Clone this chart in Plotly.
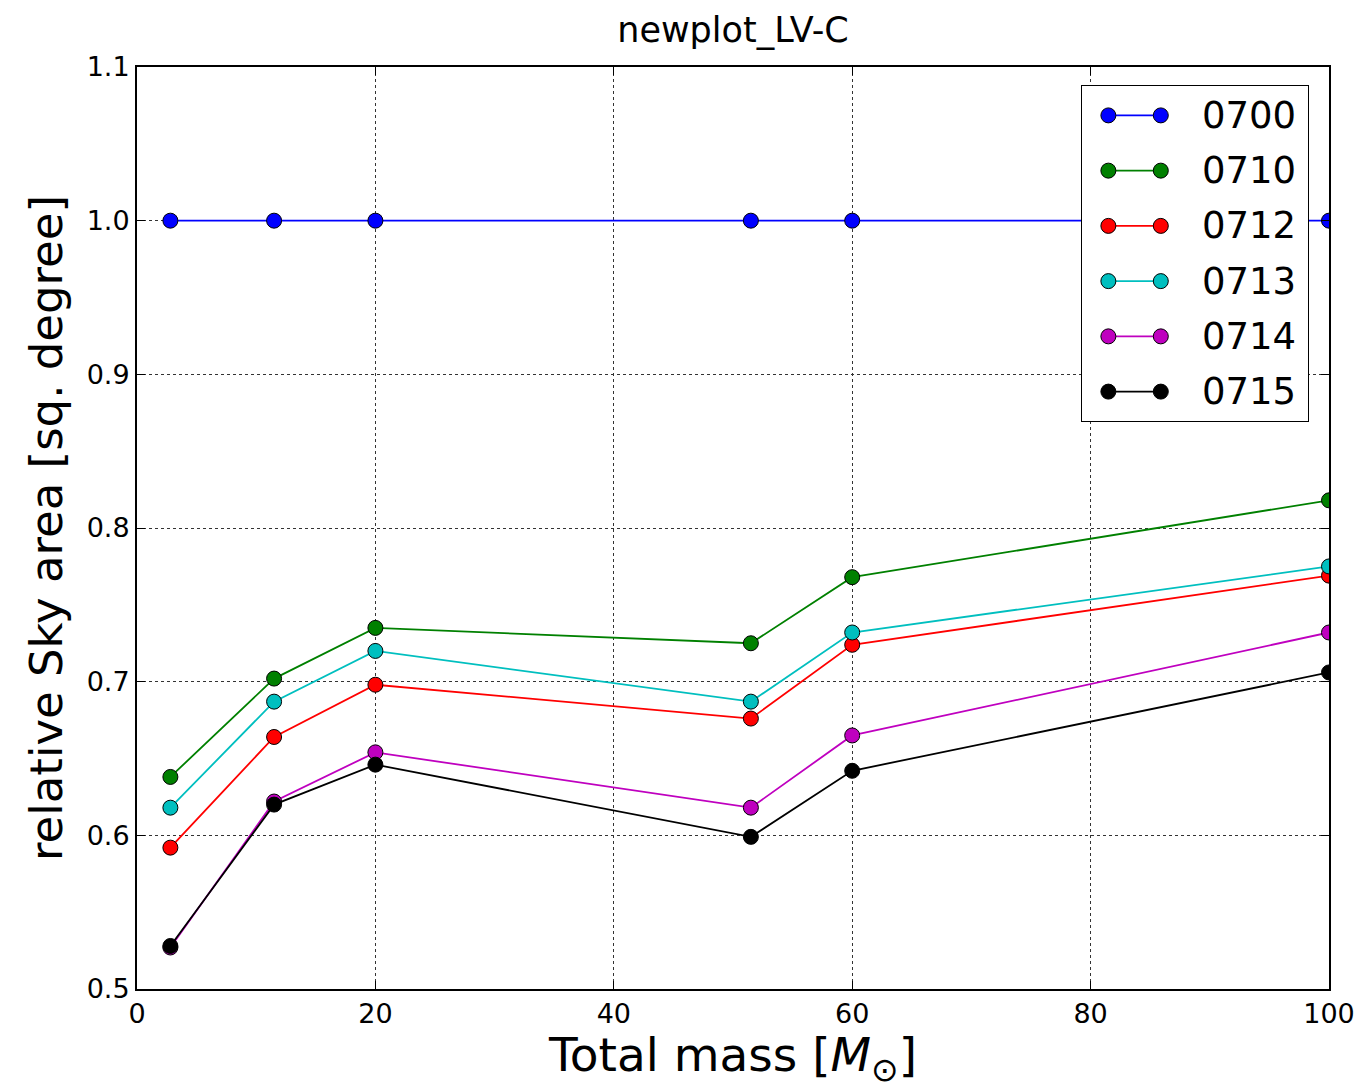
import plotly.graph_objects as go

# ---- data ----
total_mass = [2.8, 11.5, 20, 51.5, 60, 100]
series_names = ["0700", "0710", "0712", "0713", "0714", "0715"]
s0700 = [1.0, 1.0, 1.0, 1.0, 1.0, 1.0]
s0710 = [0.638, 0.702, 0.735, 0.725, 0.768, 0.818]
s0712 = [0.592, 0.664, 0.698, 0.676, 0.724, 0.769]
s0713 = [0.618, 0.687, 0.720, 0.687, 0.732, 0.775]
s0714 = [0.527, 0.622, 0.654, 0.618, 0.665, 0.732]
s0715 = [0.528, 0.620, 0.646, 0.599, 0.642, 0.706]
series_values = [s0700, s0710, s0712, s0713, s0714, s0715]
colors = ["#0000ff", "#008000", "#ff0000", "#00bfbf", "#bf00bf", "#000000"]
x_ticks = [0, 20, 40, 60, 80, 100]
y_ticks = [0.5, 0.6, 0.7, 0.8, 0.9, 1.0, 1.1]

FONT = "DejaVu Sans"

fig = go.Figure()
for name, vals, col in zip(series_names, series_values, colors):
    fig.add_trace(go.Scatter(
        x=total_mass, y=vals, name=name, mode="lines+markers",
        line=dict(color=col, width=1.8),
        marker=dict(color=col, size=15, line=dict(color="black", width=1)),
        showlegend=False, xaxis="x", yaxis="y",
    ))

# ---- custom legend (matplotlib-like, two markers per entry) ----
n = len(series_names)
fig.add_trace(go.Scatter(
    x=[0, 1, 1, 0, 0], y=[0, 0, 1, 1, 0], mode="lines", fill="toself",
    fillcolor="white", line=dict(color="black", width=2),
    hoverinfo="skip", showlegend=False, xaxis="x2", yaxis="y2",
))
for i, (name, col) in enumerate(zip(series_names, colors)):
    row = n - i  # top row first
    fig.add_trace(go.Scatter(
        x=[0.12, 0.35], y=[row, row], mode="lines+markers",
        line=dict(color=col, width=1.8),
        marker=dict(color=col, size=15, line=dict(color="black", width=1)),
        hoverinfo="skip", showlegend=False, xaxis="x2", yaxis="y3",
    ))
    fig.add_annotation(
        x=0.52, y=row, xref="x2", yref="y3", text=name, showarrow=False,
        xanchor="left", yanchor="middle",
        font=dict(family=FONT, size=37, color="black"),
    )

axis_common = dict(
    showline=True, linecolor="black", linewidth=2, mirror="ticks",
    ticks="inside", ticklen=8, tickwidth=1.2, tickcolor="black",
    showgrid=True, gridcolor="#333333", gridwidth=1, griddash="dot",
    zeroline=False, automargin=False,
    tickfont=dict(family=FONT, size=27, color="black"),
)

fig.update_layout(
    width=1357, height=1089,
    margin=dict(l=137, r=28, t=67, b=100),
    paper_bgcolor="white", plot_bgcolor="white",
    title=dict(text="newplot_LV-C", x=(137 + 1329) / 2 / 1357, xanchor="center",
               y=1 - 30 / 1089, yanchor="middle",
               font=dict(family=FONT, size=35, color="black")),
    xaxis=dict(range=[0, 100], tickvals=x_ticks, ticktext=[str(v) for v in x_ticks],
               title=dict(text="Total mass [<i>M</i><sub>⊙</sub>]",
                          font=dict(family=FONT, size=47, color="black"), standoff=10),
               **axis_common),
    yaxis=dict(range=[0.5, 1.1], tickvals=y_ticks, ticktext=[f"{v:.1f}" for v in y_ticks],
               title=dict(text="relative Sky area [sq. degree]",
                          font=dict(family=FONT, size=45, color="black"), standoff=10),
               **axis_common),
    xaxis2=dict(domain=[(1081 - 137) / 1192, (1309 - 137) / 1192], range=[0, 1],
                anchor="y2", visible=False, fixedrange=True),
    yaxis2=dict(domain=[(989 - 422) / 922, (989 - 85) / 922], range=[0, 1],
                anchor="x2", visible=False, fixedrange=True),
    yaxis3=dict(domain=[(989 - 422) / 922, (989 - 85) / 922], range=[0.45, n + 0.55],
                anchor="x2", overlaying="y2", visible=False, fixedrange=True),
)

fig.write_html("out.html")
